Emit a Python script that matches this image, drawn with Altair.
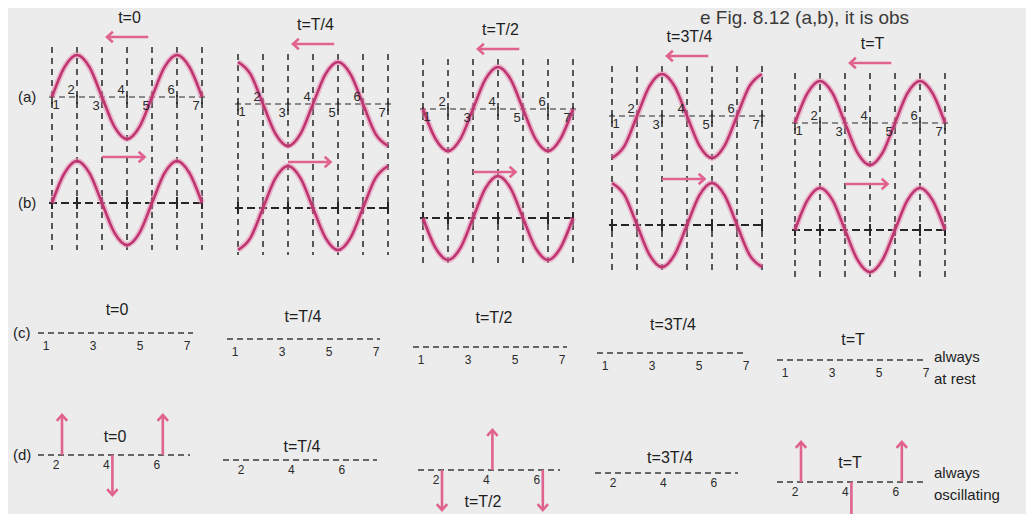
import altair as alt
import pandas as pd

# ---------------- data ----------------
times = ["t=0", "t=T/4", "t=T/2", "t=3T/4", "t=T"]
positions = [1, 2, 3, 4, 5, 6, 7]
curve_positions = [1, 1.5, 2, 2.5, 3, 3.5, 4, 4.5, 5, 5.5, 6, 6.5, 7]

# (a) wave travelling to the left (displacement in amplitudes)
wave_a = {
    "t=0":    [0, 0.71, 1, 0.71, 0, -0.71, -1, -0.71, 0, 0.71, 1, 0.71, 0],
    "t=T/4":  [1, 0.71, 0, -0.71, -1, -0.71, 0, 0.71, 1, 0.71, 0, -0.71, -1],
    "t=T/2":  [0, -0.71, -1, -0.71, 0, 0.71, 1, 0.71, 0, -0.71, -1, -0.71, 0],
    "t=3T/4": [-1, -0.71, 0, 0.71, 1, 0.71, 0, -0.71, -1, -0.71, 0, 0.71, 1],
    "t=T":    [0, 0.71, 1, 0.71, 0, -0.71, -1, -0.71, 0, 0.71, 1, 0.71, 0],
}
# (b) wave travelling to the right
wave_b = {
    "t=0":    [0, 0.71, 1, 0.71, 0, -0.71, -1, -0.71, 0, 0.71, 1, 0.71, 0],
    "t=T/4":  [-1, -0.71, 0, 0.71, 1, 0.71, 0, -0.71, -1, -0.71, 0, 0.71, 1],
    "t=T/2":  [0, -0.71, -1, -0.71, 0, 0.71, 1, 0.71, 0, -0.71, -1, -0.71, 0],
    "t=3T/4": [1, 0.71, 0, -0.71, -1, -0.71, 0, 0.71, 1, 0.71, 0, -0.71, -1],
    "t=T":    [0, 0.71, 1, 0.71, 0, -0.71, -1, -0.71, 0, 0.71, 1, 0.71, 0],
}
node_labels = [1, 3, 5, 7]
antinode_labels = [2, 4, 6]
antinode_motion = {
    "t=0": [1, -1, 1],
    "t=T/4": [0, 0, 0],
    "t=T/2": [-1, 1, -1],
    "t=3T/4": [0, 0, 0],
    "t=T": [1, -1, 1],
}
row_labels = ["(a)", "(b)", "(c)", "(d)"]
note_c = ["always", "at rest"]
note_d = ["always", "oscillating"]
header_text = "e Fig. 8.12 (a,b), it is obs"

# ---------------- layout (page pixels) ----------------
FONT = "Liberation Sans"
DARK = "#262626"
WAVE = "#bf3470"
HALO = "#e58db0"
ARROW = "#e0628f"
BG = "#ececec"
STEP = 25.0
AMP = 42.0
top_x0 = [52, 238, 423, 612, 795]
a_cy = [97, 104, 109, 116, 123]
b_cy = [203, 208, 218, 225, 230]
c_x0 = [38, 227, 413, 597, 777]
c_x1 = [193, 380, 567, 747, 927]
c_y = [333, 339, 347, 353, 360]
c_title = [(79, -23), (76, -22), (81, -29), (76, -28), (76, -20)]
d_x0 = [38, 223, 418, 595, 777]
d_x1 = [190, 377, 560, 738, 925]
d_y = [455, 460, 470, 473, 482]
d_title = [(77, -18), (79, -13), (65, 32), (75, -15), (73, -19)]

HEAD = {
    "left": "M 0.9 -0.8 L 0 0 L 0.9 0.8",
    "right": "M -0.9 -0.8 L 0 0 L -0.9 0.8",
    "up": "M -0.8 0.9 L 0 0 L 0.8 0.9",
    "down": "M -0.8 -0.9 L 0 0 L 0.8 -0.9",
}

vlines, hlines_a, hlines_b, ticks_a, ticks_b = [], [], [], [], []
waves, shafts, heads, texts_c, texts_l, nums = [], [], [], [], [], []
dlines = []

for i, t in enumerate(times):
    x0 = top_x0[i]
    for p in positions:
        xp = x0 + (p - 1) * STEP
        vlines.append(dict(x=xp, y=a_cy[i] - 50, y2=b_cy[i] + 47))
        ticks_a.append(dict(x=xp, y=a_cy[i] - 2, y2=a_cy[i] + 7))
        ticks_b.append(dict(x=xp, y=b_cy[i] - 6, y2=b_cy[i] + 6))
        if p % 2 == 1:
            dx, dy = (4, 8) if p == 1 else (-6, 9)
        else:
            dx, dy = (-6, -7)
        nums.append(dict(x=xp + dx, y=a_cy[i] + dy, text=str(p), size=13))
    hlines_a.append(dict(x=x0 - 3, x2=x0 + 6 * STEP + 4, y=a_cy[i]))
    hlines_b.append(dict(x=x0 - 3, x2=x0 + 6 * STEP + 2, y=b_cy[i]))
    for s, wv, cy in (("a", wave_a[t], a_cy[i]), ("b", wave_b[t], b_cy[i])):
        for p, v in zip(curve_positions, wv):
            waves.append(dict(key=f"{s}{i}", pos=p, x=x0 + (p - 1) * STEP, y=cy - v * AMP))
    # travelling direction arrows
    ya = a_cy[i] - 60
    shafts.append(dict(x=x0 + 3.85 * STEP, x2=x0 + 2.2 * STEP, y=ya, y2=ya))
    heads.append(dict(x=x0 + 2.2 * STEP, y=ya, shape=HEAD["left"]))
    yb = b_cy[i] - 46
    shafts.append(dict(x=x0 + 2.0 * STEP, x2=x0 + 3.7 * STEP, y=yb, y2=yb))
    heads.append(dict(x=x0 + 3.7 * STEP, y=yb, shape=HEAD["right"]))
    texts_c.append(dict(x=x0 + 3.1 * STEP, y=a_cy[i] - 79, text=t, size=16))

    # (c) nodes
    dlines.append(dict(x=c_x0[i], x2=c_x1[i], y=c_y[i]))
    for n in node_labels:
        nums.append(dict(x=c_x0[i] + 8 + (n - 1) * 23.5, y=c_y[i] + 13, text=str(n), size=12))
    texts_c.append(dict(x=c_x0[i] + c_title[i][0], y=c_y[i] + c_title[i][1], text=t, size=16))

    # (d) antinodes
    dlines.append(dict(x=d_x0[i], x2=d_x1[i], y=d_y[i]))
    for n, m in zip(antinode_labels, antinode_motion[t]):
        xn = d_x0[i] + 18 + (n - 2) * 25.2
        nums.append(dict(x=xn, y=d_y[i] + 10, text=str(n), size=12))
        if m != 0:
            yend = d_y[i] - m * 40
            shafts.append(dict(x=xn + 6, x2=xn + 6, y=d_y[i], y2=yend))
            heads.append(dict(x=xn + 6, y=yend, shape=HEAD["up" if m > 0 else "down"]))
    texts_c.append(dict(x=d_x0[i] + d_title[i][0], y=d_y[i] + d_title[i][1], text=t, size=16))

texts_l += [
    dict(x=18, y=a_cy[0], text=row_labels[0], size=15),
    dict(x=18, y=b_cy[0], text=row_labels[1], size=15),
    dict(x=13, y=c_y[0], text=row_labels[2], size=15),
    dict(x=13, y=d_y[0], text=row_labels[3], size=15),
    dict(x=934, y=c_y[4] - 3, text=note_c[0], size=15),
    dict(x=934, y=c_y[4] + 19, text=note_c[1], size=15),
    dict(x=934, y=d_y[4] - 9, text=note_d[0], size=15),
    dict(x=934, y=d_y[4] + 13, text=note_d[1], size=15),
]

xs = alt.Scale(domain=[8, 1026], nice=False, zero=False)
ys = alt.Scale(domain=[8, 514], nice=False, zero=False, reverse=True)
X = alt.X("x:Q", scale=xs, axis=None)
Y = alt.Y("y:Q", scale=ys, axis=None)


def base(rows):
    return alt.Chart(pd.DataFrame(rows))


vline_l = base(vlines).mark_rule(color=DARK, strokeWidth=1.5, strokeDash=[6, 5]).encode(
    x=X, y=Y, y2="y2:Q")
ha_l = base(hlines_a).mark_rule(color=DARK, strokeWidth=1.2, strokeDash=[6, 4]).encode(
    x=X, x2="x2:Q", y=Y)
hb_l = base(hlines_b).mark_rule(color=DARK, strokeWidth=2.0, strokeDash=[8, 4]).encode(
    x=X, x2="x2:Q", y=Y)
ta_l = base(ticks_a).mark_rule(color=DARK, strokeWidth=1.5).encode(x=X, y=Y, y2="y2:Q")
tb_l = base(ticks_b).mark_rule(color=DARK, strokeWidth=2.0).encode(x=X, y=Y, y2="y2:Q")
dl_l = base(dlines).mark_rule(color="#3a3a3a", strokeWidth=1.3, strokeDash=[6, 4]).encode(
    x=X, x2="x2:Q", y=Y)

wdf = base(waves)
halo_l = wdf.mark_line(color=HALO, strokeWidth=6, opacity=0.55, interpolate="monotone").encode(
    x=X, y=Y, detail="key:N", order="pos:Q")
wave_l = wdf.mark_line(color=WAVE, strokeWidth=2.6, interpolate="monotone").encode(
    x=X, y=Y, detail="key:N", order="pos:Q")

shaft_l = base(shafts).mark_rule(color=ARROW, strokeWidth=2.6).encode(
    x=X, x2="x2:Q", y=Y, y2="y2:Q")
head_l = base(heads).mark_point(color=ARROW, filled=False, strokeWidth=2.6, size=170,
                                opacity=1).encode(
    x=X, y=Y, shape=alt.Shape("shape:N", scale=None))

textc_l = base(texts_c).mark_text(font=FONT, align="center", baseline="middle",
                                  color="#1e1e1e").encode(
    x=X, y=Y, text="text:N", size=alt.Size("size:Q", scale=None))
num_l = base(nums).mark_text(font=FONT, align="center", baseline="middle",
                             color="#2a2a2a").encode(
    x=X, y=Y, text="text:N", size=alt.Size("size:Q", scale=None))
textl_l = base(texts_l).mark_text(font=FONT, align="left", baseline="middle",
                                  color="#1e1e1e").encode(
    x=X, y=Y, text="text:N", size=alt.Size("size:Q", scale=None))
header_l = base([dict(x=700, y=24, text=header_text)]).mark_text(
    font=FONT, align="left", baseline="alphabetic", fontSize=19, color="#3a3a3a").encode(
    x=X, y=Y, text="text:N")

chart = alt.layer(
    header_l, vline_l, ha_l, hb_l, ta_l, tb_l, dl_l, halo_l, wave_l,
    shaft_l, head_l, num_l, textc_l, textl_l,
).properties(
    width=1018, height=506, padding=0, background=BG,
    autosize=alt.AutoSizeParams(type="none"),
).configure_view(stroke=None)

chart.save("out.html", embed_options={"renderer": "svg", "actions": False})
